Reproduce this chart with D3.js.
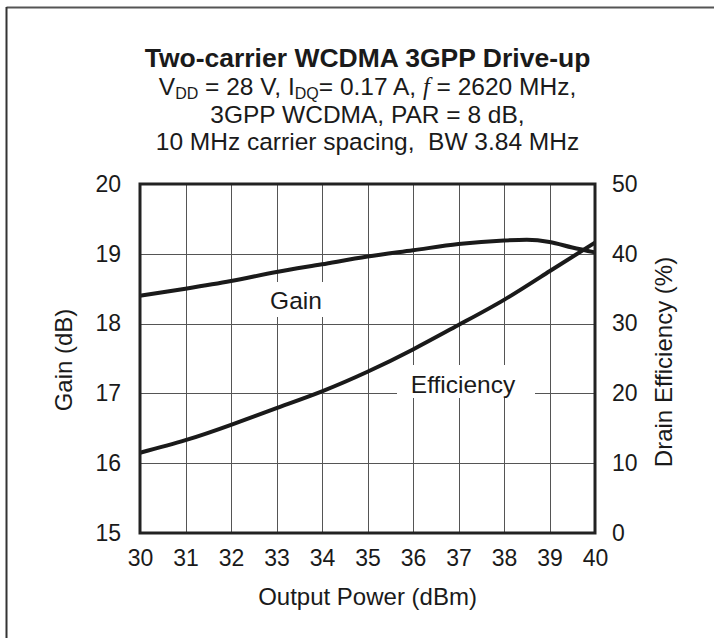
<!DOCTYPE html>
<html>
<head>
<meta charset="utf-8">
<script src="https://cdn.jsdelivr.net/npm/d3@7"></script>
<style>
  html, body { margin: 0; padding: 0; background: #fff; }
  svg { display: block; }
  text { font-family: "Liberation Sans", Arial, sans-serif; fill: #1a1a1a; }
</style>
</head>
<body>
<svg id="chart" width="714" height="638"></svg>
<script>
// ---- data ----
const outputPower = [30, 31, 32, 33, 34, 35, 36, 37, 38, 38.5, 39, 39.5, 40];
const gainDb      = [18.40, 18.50, 18.61, 18.74, 18.85, 18.96, 19.05, 19.14, 19.19, 19.20, 19.17, 19.09, 19.02];
const effPower    = [30, 31, 32, 33, 34, 35, 36, 37, 38, 39, 40];
const efficiency  = [11.5, 13.3, 15.5, 17.9, 20.3, 23.1, 26.3, 29.8, 33.4, 37.5, 41.6];
const xTicks      = [30, 31, 32, 33, 34, 35, 36, 37, 38, 39, 40];
const yLeftTicks  = [15, 16, 17, 18, 19, 20];
const yRightTicks = [0, 10, 20, 30, 40, 50];

const svg = d3.select("#chart");
const L = 140, R = 595, T = 184, B = 533;

const x  = d3.scaleLinear().domain([30, 40]).range([L, R]);
const yL = d3.scaleLinear().domain([15, 20]).range([B, T]);
const yR = d3.scaleLinear().domain([0, 50]).range([B, T]);

// outer frame (top/left only visible)
svg.append("line").attr("x1", 6.5).attr("x2", 714).attr("y1", 7.5).attr("y2", 7.5)
  .attr("stroke", "#555").attr("stroke-width", 2);
svg.append("line").attr("x1", 6.5).attr("x2", 6.5).attr("y1", 7).attr("y2", 638)
  .attr("stroke", "#333").attr("stroke-width", 2);

// title
const title = svg.append("g").attr("text-anchor", "middle");
const cx = (L + R) / 2;
title.append("text").attr("x", cx).attr("y", 67).attr("font-size", 26.5).attr("font-weight", "bold")
  .text("Two-carrier WCDMA 3GPP Drive-up");
const l2 = title.append("text").attr("x", cx).attr("y", 95).attr("font-size", 24.5);
l2.append("tspan").text("V");
l2.append("tspan").attr("font-size", 16).attr("dy", 3.5).text("DD");
l2.append("tspan").attr("dy", -3.5).text(" = 28 V, I");
l2.append("tspan").attr("font-size", 16).attr("dy", 3.5).text("DQ");
l2.append("tspan").attr("dy", -3.5).text("= 0.17 A, ");
l2.append("tspan").attr("font-style", "italic").attr("font-family", "'Liberation Serif', serif").text("f");
l2.append("tspan").text(" = 2620 MHz,");
title.append("text").attr("x", cx).attr("y", 123).attr("font-size", 24.5)
  .text("3GPP WCDMA, PAR = 8 dB,");
title.append("text").attr("x", cx).attr("y", 150).attr("font-size", 24.5)
  .style("white-space", "pre")
  .text("10 MHz carrier spacing,  BW 3.84 MHz");

// grid
const grid = svg.append("g").attr("stroke", "#555").attr("stroke-width", 1);
xTicks.slice(1, -1).forEach(t => {
  grid.append("line").attr("x1", Math.round(x(t)) + 0.5).attr("x2", Math.round(x(t)) + 0.5)
    .attr("y1", T).attr("y2", B);
});
yLeftTicks.slice(1, -1).forEach(t => {
  grid.append("line").attr("y1", Math.round(yL(t)) + 0.5).attr("y2", Math.round(yL(t)) + 0.5)
    .attr("x1", L).attr("x2", R);
});

// label masks
svg.append("rect").attr("x", 266).attr("y", 282).attr("width", 60).attr("height", 35).attr("fill", "#fff");
svg.append("rect").attr("x", 397).attr("y", 365).attr("width", 138).attr("height", 33).attr("fill", "#fff");

// curves
const lineGain = d3.line().x((d, i) => x(outputPower[i])).y(d => yL(d)).curve(d3.curveMonotoneX);
const lineEff  = d3.line().x((d, i) => x(effPower[i])).y(d => yR(d)).curve(d3.curveNatural);
svg.append("path").attr("d", lineGain(gainDb)).attr("fill", "none").attr("stroke", "#1a1a1a").attr("stroke-width", 4);
svg.append("path").attr("d", lineEff(efficiency)).attr("fill", "none").attr("stroke", "#1a1a1a").attr("stroke-width", 4);

// frame
svg.append("rect").attr("x", L).attr("y", T).attr("width", R - L).attr("height", B - T)
  .attr("fill", "none").attr("stroke", "#222").attr("stroke-width", 3);

// curve labels
svg.append("text").attr("x", 296).attr("y", 309).attr("text-anchor", "middle").attr("font-size", 24.5).text("Gain");
svg.append("text").attr("x", 463).attr("y", 393).attr("text-anchor", "middle").attr("font-size", 24.5).text("Efficiency");

// axes (tick labels via d3 axes, no domain/ticks drawn)
const ax = svg.append("g").attr("transform", `translate(0,${B})`)
  .call(d3.axisBottom(x).tickValues(xTicks).tickSize(0).tickPadding(17).tickFormat(d3.format("d")));
const ayl = svg.append("g").attr("transform", `translate(${L},0)`)
  .call(d3.axisLeft(yL).tickValues(yLeftTicks).tickSize(0).tickPadding(19).tickFormat(d3.format("d")));
const ayr = svg.append("g").attr("transform", `translate(${R},0)`)
  .call(d3.axisRight(yR).tickValues(yRightTicks).tickSize(0).tickPadding(17).tickFormat(d3.format("d")));
[ax, ayl, ayr].forEach(g => {
  g.select(".domain").remove();
  g.selectAll("text").attr("font-size", 23).attr("font-family", "'Liberation Sans', Arial, sans-serif").attr("fill", "#1a1a1a");
});

// axis titles
svg.append("text").attr("x", cx).attr("y", 605).attr("text-anchor", "middle").attr("font-size", 24)
  .text("Output Power (dBm)");
svg.append("text").attr("transform", "translate(72,360) rotate(-90)").attr("text-anchor", "middle").attr("font-size", 24)
  .text("Gain (dB)");
svg.append("text").attr("transform", "translate(672,362) rotate(-90)").attr("text-anchor", "middle").attr("font-size", 24)
  .text("Drain Efficiency (%)");
</script>
</body>
</html>
